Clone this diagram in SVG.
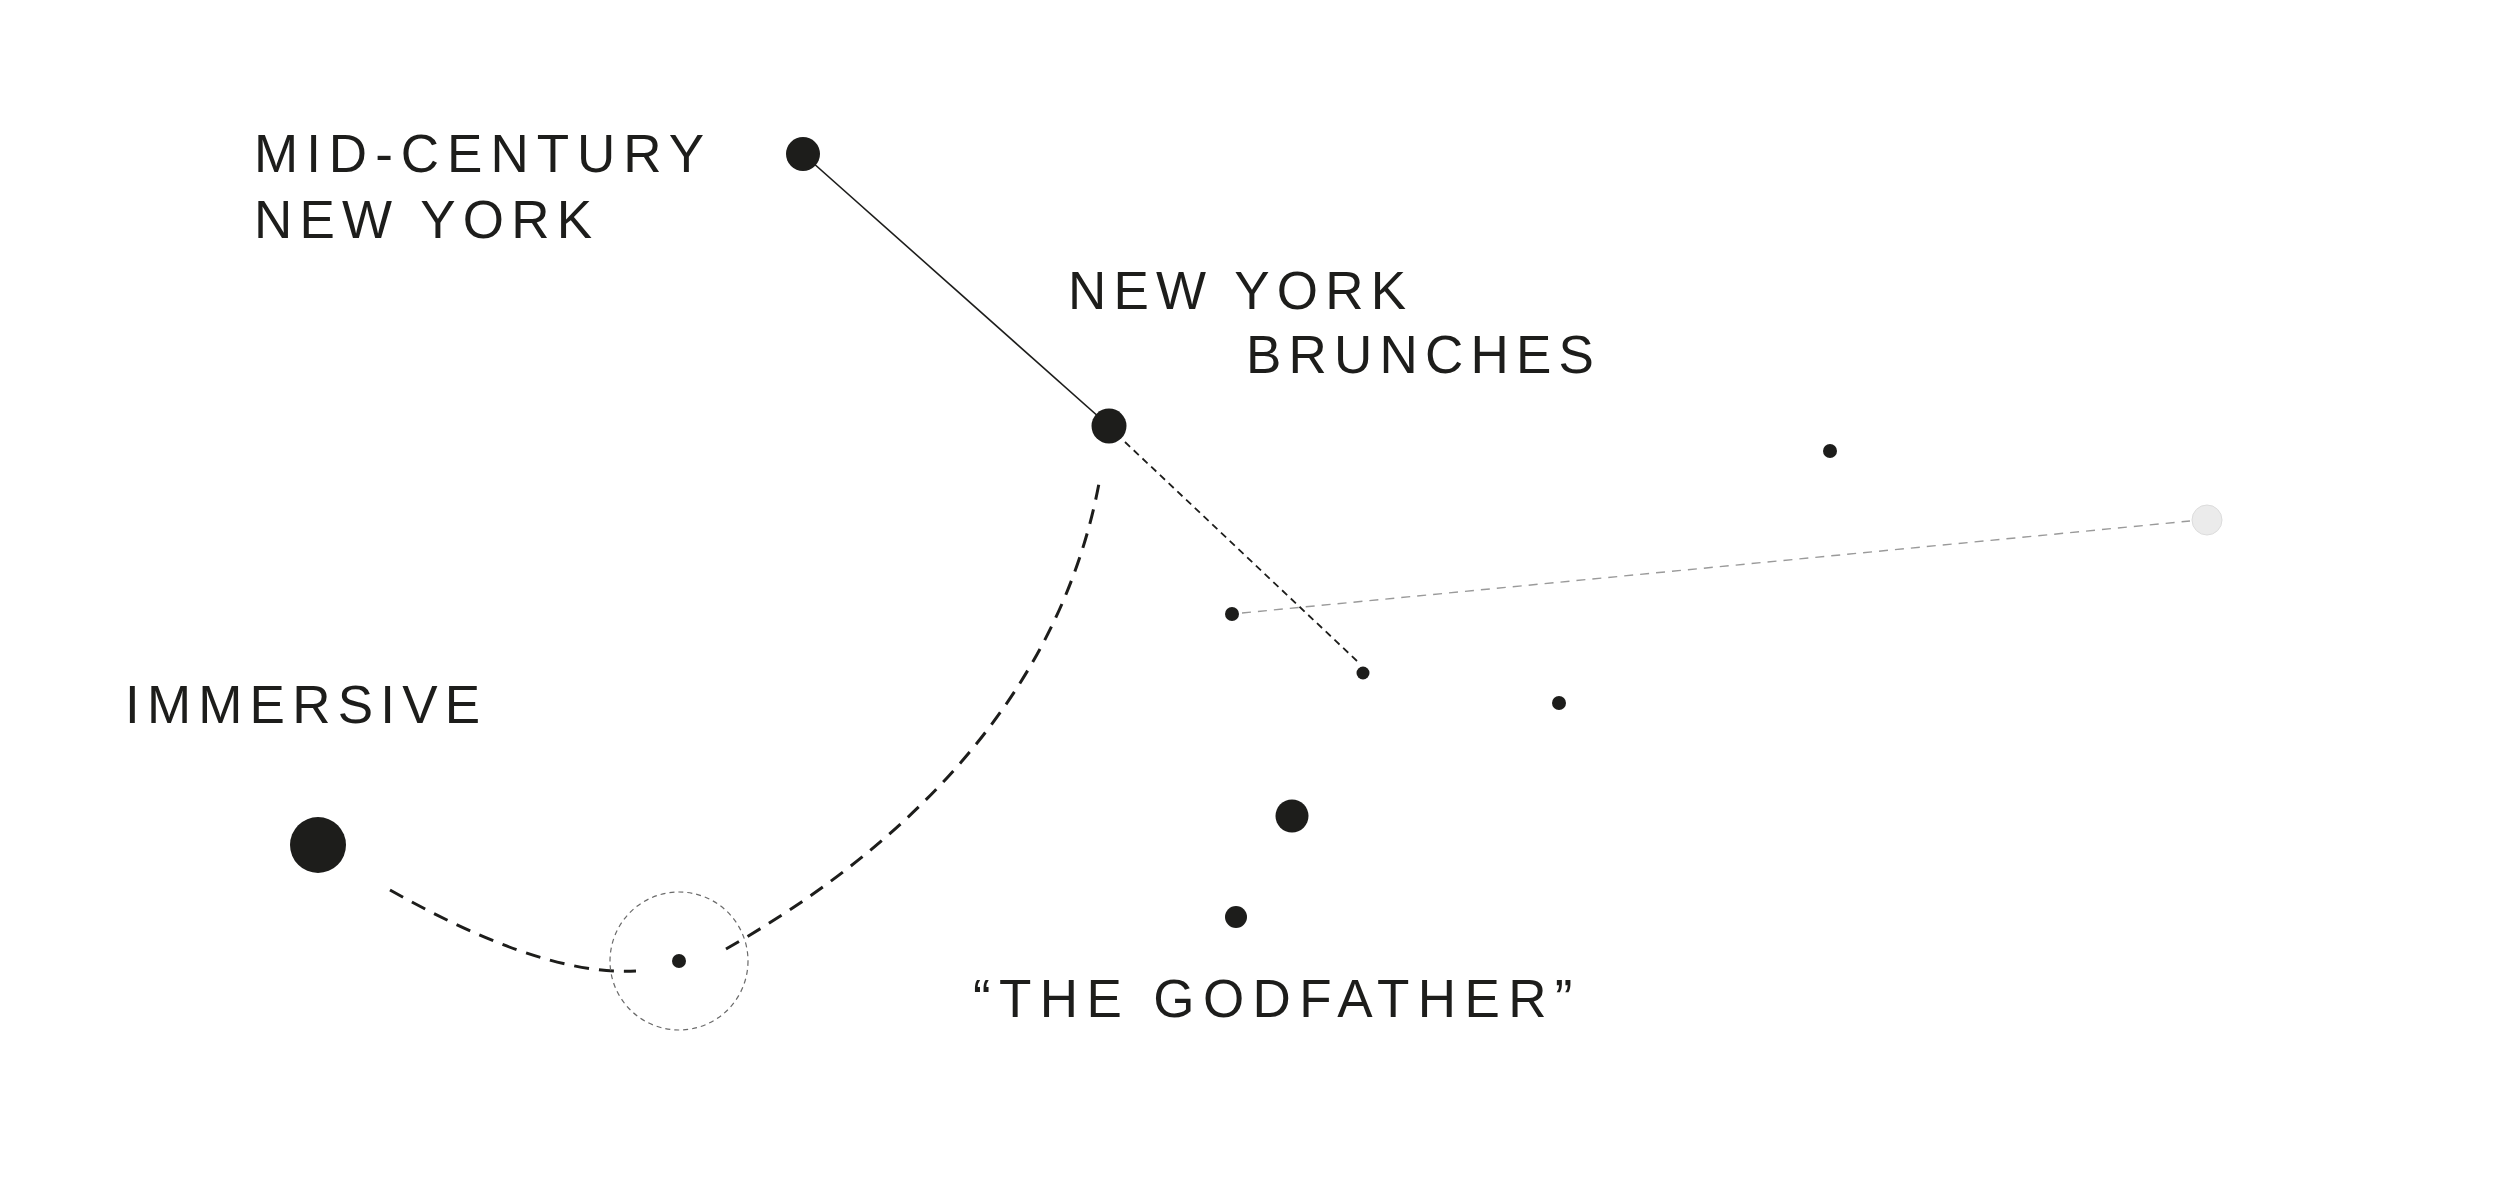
<svg xmlns="http://www.w3.org/2000/svg" width="2500" height="1188" viewBox="0 0 2500 1188">
<style>
.lbl{font-family:"Liberation Sans",Arial,sans-serif;font-size:53px;letter-spacing:7.2px;fill:#1d1d1b}
.wide{letter-spacing:8px}
.wider{letter-spacing:8.4px}
.dot{fill:#1d1d1b}
.solid{fill:none;stroke:#1d1d1b;stroke-width:1.6}
.arc{fill:none;stroke:#1d1d1b;stroke-width:3;stroke-dasharray:15 10}
.fine{fill:none;stroke:#1d1d1b;stroke-width:1.8;stroke-dasharray:7 5}
.grey{fill:none;stroke:#9a9a9a;stroke-width:1.4;stroke-dasharray:9 7}
.ring{fill:none;stroke:#6a6a6a;stroke-width:1.2;stroke-dasharray:5 4}
</style>
<rect width="2500" height="1188" fill="#ffffff"/>
<g id="connectors">
<line class="solid" x1="803" y1="154" x2="1109" y2="426"/>
<line class="fine" x1="1125" y1="442" x2="1357" y2="661"/>
<line class="grey" x1="1242" y1="613" x2="2190" y2="521"/>
<path class="arc" d="M390,890 C470,935 560,975 636,971"/>
<path class="arc" d="M726,949 C900,850 1060,700 1100,478"/>
<circle class="ring" cx="679" cy="961" r="69"/>
</g>
<g id="node-midcentury">
<circle class="dot" cx="803" cy="154" r="17"/>
<text class="lbl wide" x="254" y="172">MID-CENTURY</text>
<text class="lbl" x="254" y="238">NEW YORK</text>
</g>
<g id="node-brunches">
<circle class="dot" cx="1109" cy="426" r="17.5"/>
<text class="lbl" x="1068" y="309">NEW YORK</text>
<text class="lbl" x="1246" y="373">BRUNCHES</text>
</g>
<g id="node-immersive">
<circle class="dot" cx="318" cy="845" r="28"/>
<text class="lbl" x="125" y="723">IMMERSIVE</text>
</g>
<g id="node-small-ring">
<circle class="dot" cx="679" cy="961" r="7"/>
</g>
<g id="node-a"><circle class="dot" cx="1232" cy="614" r="7"/></g>
<g id="node-b"><circle class="dot" cx="1363" cy="673" r="6.5"/></g>
<g id="node-c"><circle class="dot" cx="1559" cy="703" r="7"/></g>
<g id="node-d"><circle class="dot" cx="1830" cy="451" r="7"/></g>
<g id="node-e"><circle cx="2207" cy="520" r="15" fill="#ebebeb" stroke="#dcdcdc" stroke-width="1"/></g>
<g id="node-f"><circle class="dot" cx="1292" cy="816" r="16.5"/></g>
<g id="node-godfather">
<circle class="dot" cx="1236" cy="917" r="11"/>
<text class="lbl wider" x="973" y="1017">“THE GODFATHER”</text>
</g>
</svg>
